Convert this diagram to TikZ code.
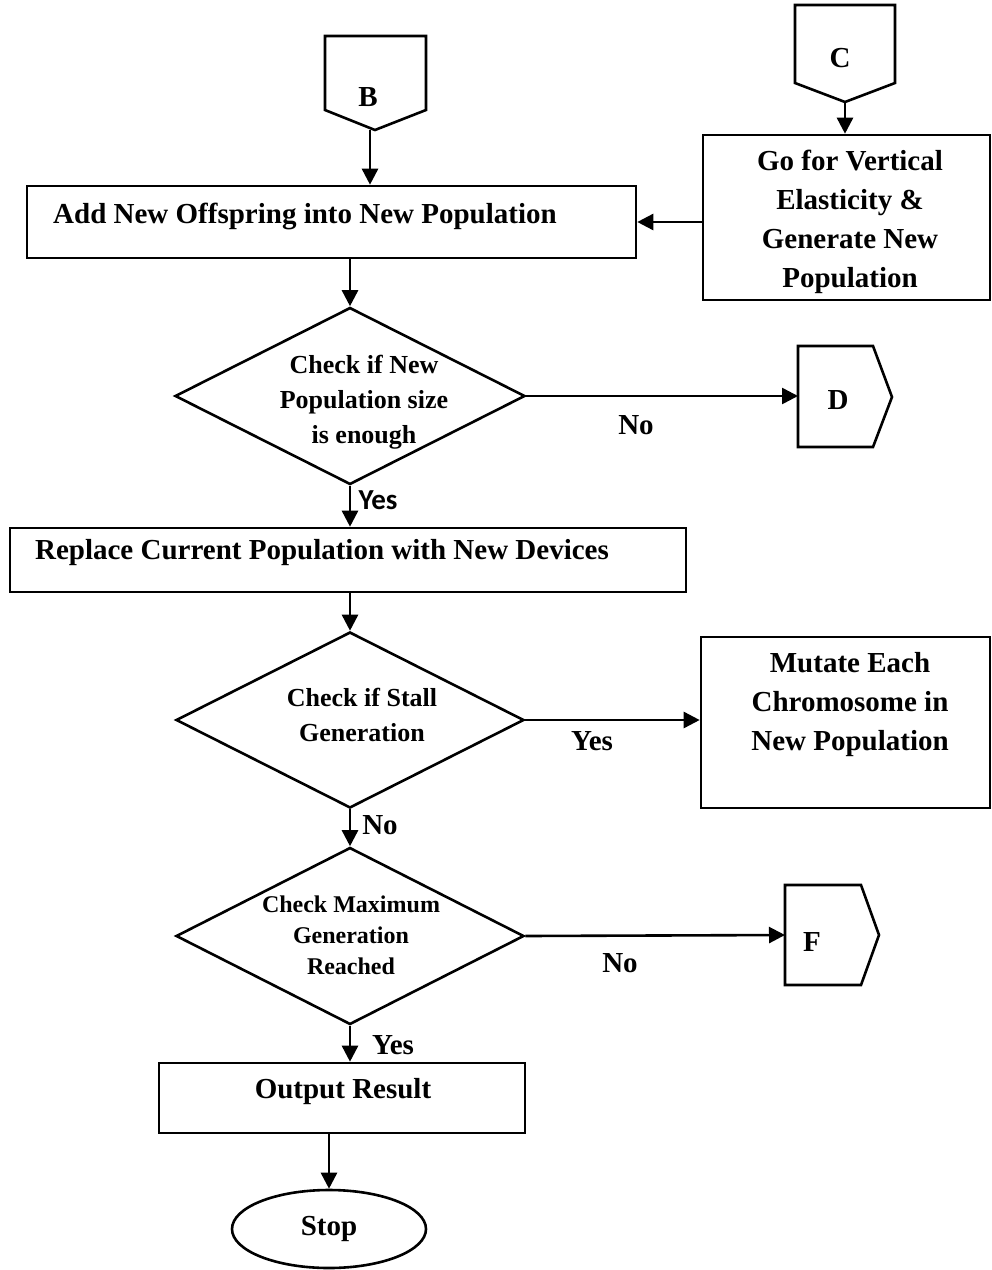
\documentclass[tikz,border=0pt]{standalone}
\usepackage{fontspec}
\setmainfont{Liberation Serif}
\newfontfamily\yesfont{Carlito}
\usetikzlibrary{shapes.geometric,arrows.meta}
\begin{document}
\begin{tikzpicture}[x=1pt,y=-1pt,
  every node/.style={font=\bfseries},
  ln/.style={line width=2.6pt},
  arr/.style={ln,-{Triangle[length=16pt,width=16pt]}},
  boxs/.style={draw,line width=2.6pt,rectangle,inner sep=0pt},
  dia/.style={draw,line width=2.6pt,diamond,inner sep=0pt},
  big/.style={font=\fontsize{29}{39}\selectfont\bfseries,align=center},
  dtxt/.style={font=\fontsize{26}{35}\selectfont\bfseries,align=center},
  dtxts/.style={font=\fontsize{24}{31}\selectfont\bfseries,align=center},
  lab/.style={font=\fontsize{29}{35}\selectfont\bfseries},
  yes/.style={font=\fontsize{29}{32}\selectfont\yesfont\bfseries}]
\useasboundingbox (0,0) rectangle (992,1270);
% off-page connectors
\draw[ln] (325,36) -- (426,36) -- (426,110) -- (375,130) -- (325,110) -- cycle;
\node[lab] (Blab) at (368,97) {B};
\coordinate (Bout) at (370,130);
\draw[ln] (795,5) -- (895,5) -- (895,83) -- (845,102) -- (795,83) -- cycle;
\node[lab] (Clab) at (840,58) {C};
\coordinate (Cout) at (845,102);
\draw[ln] (798,346) -- (873,346) -- (892,397) -- (873,447) -- (798,447) -- cycle;
\node[lab] (Dlab) at (838,400) {D};
\coordinate (Din) at (798,396);
\draw[ln] (785,885) -- (861,885) -- (879,935) -- (861,985) -- (785,985) -- cycle;
\node[lab] (Flab) at (812,942) {F};
\coordinate (Fin) at (785,935);
% boxes
\node[boxs,minimum width=609pt,minimum height=72pt] (box1) at (331.5,222) {};
\node[big] (t1) at (305,216) {Add New Offspring into New Population};
\node[boxs,minimum width=287pt,minimum height=165pt] (boxC) at (846.5,217.5) {};
\node[big] (tC) at (850,222) {Go for Vertical\\Elasticity \&\\Generate New\\Population};
\node[dia,minimum width=350pt,minimum height=177pt] (d1) at (350,396) {};
\node[dtxt] (td1) at (364,402) {Check if New\\Population size\\is enough};
\node[boxs,minimum width=676pt,minimum height=64pt] (box2) at (348,560) {};
\node[big] (t2) at (322,553) {Replace Current Population with New Devices};
\node[dia,minimum width=348pt,minimum height=176pt] (d2) at (350,720) {};
\node[dtxt] (td2) at (362,715) {Check if Stall\\Generation};
\node[boxs,minimum width=289pt,minimum height=171pt] (mut) at (845.5,722.5) {};
\node[big] (tm) at (850,705) {Mutate Each\\Chromosome in\\New Population};
\node[dia,minimum width=348pt,minimum height=177pt] (d3) at (350,936) {};
\node[dtxts] (td3) at (351,935) {Check Maximum\\Generation\\Reached};
\node[boxs,minimum width=366pt,minimum height=70pt] (out) at (342,1098) {};
\node[big] (to) at (343,1092) {Output Result};
\node[draw,line width=2.6pt,ellipse,minimum width=194pt,minimum height=78pt,inner sep=0pt] (stop) at (329,1229) {};
\node[big] (ts) at (329,1229) {Stop};
% connectors
\draw[arr] (Bout) -- (Bout |- box1.north);
\draw[arr] (Cout) -- (Cout |- boxC.north);
\draw[arr] (box1.east -| boxC.west) -- (box1.east);
\draw[arr] (d1.north |- box1.south) -- (d1.north);
\draw[arr] (d1.east) -- (Din);
\draw[arr] (d1.south) -- (d1.south |- box2.north);
\draw[arr] (d2.north |- box2.south) -- (d2.north);
\draw[arr] (d2.east) -- (d2.east -| mut.west);
\draw[arr] (d2.south) -- (d3.north);
\draw[arr] (d3.east) -- (Fin);
\draw[arr] (d3.south) -- (d3.south |- out.north);
\draw[arr] (stop.north |- out.south) -- (stop.north);
% labels
\node[lab] (n1) at (636,425) {No};
\node[yes,anchor=west] (y1) at (355,500) {Yes};
\node[lab] (y2) at (592,741) {Yes};
\node[lab] (n2) at (380,825) {No};
\node[lab] (n3) at (620,963) {No};
\node[lab] (y3) at (393,1045) {Yes};
\end{tikzpicture}
\end{document}
